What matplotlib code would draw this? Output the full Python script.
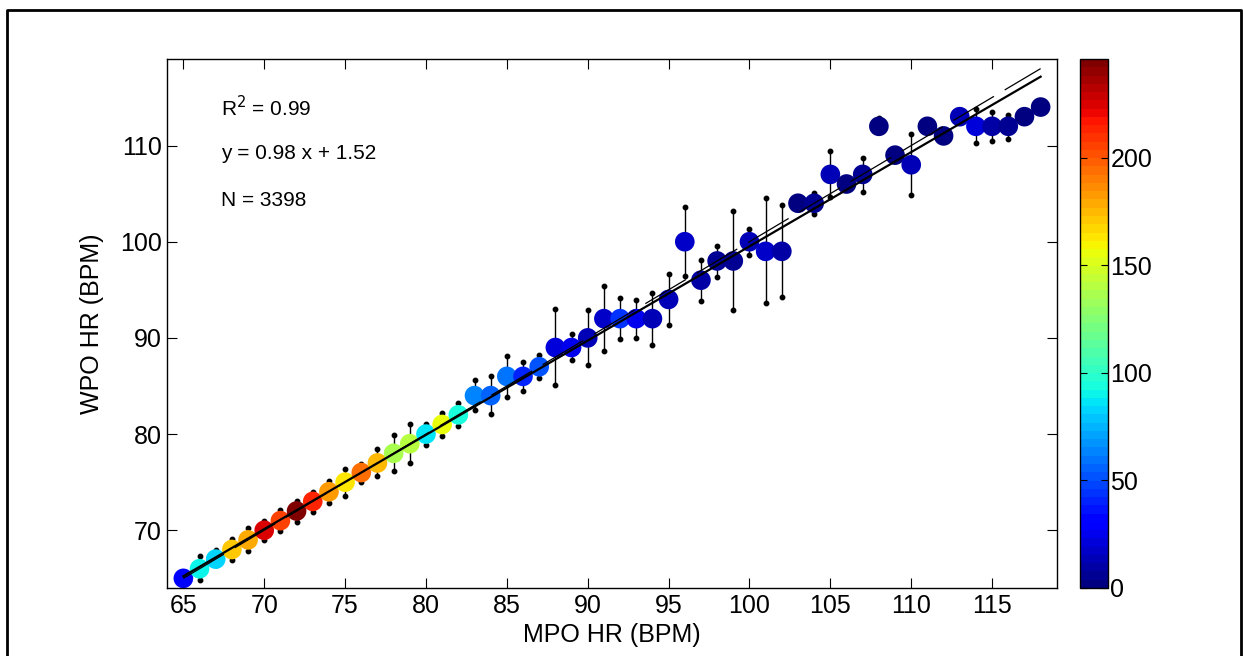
import matplotlib
matplotlib.use("Agg")
import matplotlib.pyplot as plt
import numpy as np
from matplotlib.lines import Line2D

# MPO heart rate bins and the WPO heart rate
mpo_hr = list(range(65, 119))
wpo_hr = [
    65, 66, 67, 68, 69, 70, 71, 72, 73, 74,
    75, 76, 77, 78, 79, 80, 81, 82, 84, 84,
    86, 86, 87, 89, 89, 90, 92, 92, 92, 92,
    94, 100, 96, 98, 98, 100, 99, 99, 104, 104,
    107, 106, 107, 112, 109, 108, 112, 111, 113, 112,
    112, 112, 113, 114,
]
err_top = [
    65.3, 67.3, 67.9, 69.1, 70.2, 71.0, 72.1, 73.0, 74.0, 75.1,
    76.4, 76.9, 78.4, 79.9, 81.0, 81.1, 82.2, 83.2, 85.6, 86.0,
    88.1, 87.5, 88.2, 93.0, 90.4, 92.9, 95.4, 94.1, 93.9, 94.7,
    96.6, 103.6, 98.1, 99.6, 103.2, 101.3, 104.5, 103.8, 104.5, 105.1,
    109.4, 106.5, 108.7, 112.9, 109.5, 111.2, 112.5, 111.5, 113.5, 113.8,
    113.5, 113.2, 113.5, 114.5,
]
err_bot = [
    64.7, 64.8, 66.4, 66.9, 67.8, 69.0, 69.9, 70.9, 71.9, 72.8,
    73.6, 75.0, 75.6, 76.2, 77.0, 78.9, 79.8, 80.8, 82.5, 82.1,
    83.9, 84.5, 85.8, 85.1, 87.7, 87.2, 88.6, 89.9, 90.0, 89.3,
    91.3, 96.4, 93.8, 96.3, 92.9, 98.6, 93.6, 94.3, 103.5, 102.9,
    104.6, 105.5, 105.2, 111.5, 108.5, 104.9, 111.5, 110.5, 112.5, 110.3,
    110.5, 110.7, 112.5, 113.5,
]
counts = [
    28, 92, 82, 172, 180, 225, 205, 246, 215, 182,
    163, 195, 175, 135, 140, 88, 154, 95, 62, 55,
    58, 40, 52, 20, 25, 15, 18, 45, 25, 14,
    12, 16, 8, 5, 7, 15, 18, 8, 3, 4,
    15, 3, 4, 2, 3, 15, 3, 3, 12, 22,
    8, 7, 2, 2,
]

slope = 0.98
intercept = 1.52
r2 = 0.99
n_total = 3398

plt.rcParams["font.family"] = ["Liberation Sans", "DejaVu Sans"]
plt.rcParams["lines.scale_dashes"] = False

fig = plt.figure(figsize=(12.43, 6.56), dpi=100)
ax = fig.add_axes([0.1345, 0.1037, 0.7157, 0.8064])
cax = fig.add_axes([0.8689, 0.1037, 0.0221, 0.8064])

x = np.array(mpo_hr)
y = np.array(wpo_hr)

ax.vlines(x, err_bot, err_top, color="black", linewidth=1.0, zorder=1)
ax.plot(x, err_top, "o", color="black", markersize=3.2, zorder=1)
ax.plot(x, err_bot, "o", color="black", markersize=3.2, zorder=1)

cmap = plt.get_cmap("jet", 64)
sc = ax.scatter(x, y, c=counts, cmap=cmap, vmin=0, vmax=246, s=200,
                edgecolors="none", zorder=2)

xl = np.array([x.min(), x.max()])
ax.plot(xl, xl, color="black", linewidth=0.9, dashes=(34, 9), zorder=3)
ax.plot(xl, slope * xl + intercept, color="black", linewidth=1.6, zorder=4)

ax.text(0.06, 0.909, r"R$^2$ = %.2f" % r2, transform=ax.transAxes,
        fontsize=15, va="center")
ax.text(0.06, 0.822, "y = %.2f x + %.2f" % (slope, intercept),
        transform=ax.transAxes, fontsize=15, va="center")
ax.text(0.06, 0.733, "N = %d" % n_total, transform=ax.transAxes,
        fontsize=15, va="center")

ax.set_xlim(64, 119)
ax.set_ylim(64, 119)
ax.set_xticks(range(65, 116, 5))
ax.set_yticks(range(70, 111, 10))
ax.tick_params(direction="in", length=7, width=0.8, labelsize=18,
               top=True, right=True, pad=4)
ax.set_xlabel("MPO HR (BPM)", fontsize=18, labelpad=4)
ax.set_ylabel("WPO HR (BPM)", fontsize=18, labelpad=11)
for s in ax.spines.values():
    s.set_linewidth(1.0)

cb = fig.colorbar(sc, cax=cax)
cb.set_ticks([0, 50, 100, 150, 200])
cax.tick_params(direction="in", length=5, width=0.8, labelsize=18,
                left=True, right=True, pad=2)
cb.outline.set_linewidth(1.0)

fig.add_artist(Line2D([7 / 1243, 7 / 1243, 1241 / 1243, 1241 / 1243],
                      [0, 1 - 10 / 656, 1 - 10 / 656, 0],
                      transform=fig.transFigure, color="black", linewidth=2))

fig.savefig("out.png", dpi=100)
